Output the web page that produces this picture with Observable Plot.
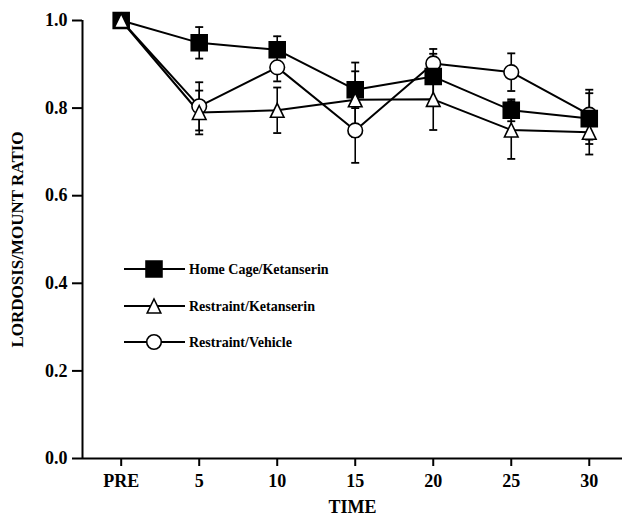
<!DOCTYPE html>
<html><head><meta charset="utf-8">
<script src="https://cdn.jsdelivr.net/npm/d3@7"></script>
<script src="https://cdn.jsdelivr.net/npm/@observablehq/plot@0.6"></script>
<style>
body{margin:0;background:#fff}
#chart{position:relative;width:625px;height:516px}
#chart svg text{font-size:18px;font-weight:bold;font-family:'Liberation Serif','Times New Roman',serif}
#chart svg g[aria-label="y-axis label"] text{font-size:17px}
</style>
</head><body><div id="chart"></div>
<script>
// ---- data ----
const times = [0, 5, 10, 15, 20, 25, 30];
const timeLabels = ["PRE", "5", "10", "15", "20", "25", "30"];
const seriesNames = ["Home Cage/Ketanserin", "Restraint/Ketanserin", "Restraint/Vehicle"];
const homeKet   = [1.0, 0.949, 0.933, 0.842, 0.872, 0.795, 0.776];
const homeKetSE = [0,   0.036, 0.031, 0.042, 0.052, 0.025, 0.058];
const restKet   = [1.0, 0.790, 0.795, 0.819, 0.820, 0.750, 0.745];
const restKetSE = [0,   0.050, 0.052, 0.085, 0.070, 0.066, 0.051];
const restVeh   = [1.0, 0.804, 0.893, 0.749, 0.902, 0.882, 0.785];
const restVehSE = [0,   0.055, 0.032, 0.074, 0.033, 0.043, 0.057];
const yTicks = [0, 0.2, 0.4, 0.6, 0.8, 1.0];

const values = [homeKet, restKet, restVeh];
const errors = [homeKetSE, restKetSE, restVehSE];
const rows = [];
seriesNames.forEach((s, i) => times.forEach((t, j) => rows.push({series: s, t, v: values[i][j], se: errors[i][j]})));
const withErr = rows.filter(d => d.se > 0);

const triangle = {draw(ctx, size) {
  const r = Math.sqrt(size / Math.PI);
  const hw = 0.85 * r, h = 1.75 * r;
  ctx.moveTo(0, -h / 2); ctx.lineTo(hw, h / 2); ctx.lineTo(-hw, h / 2); ctx.closePath();
}};
const cap = {draw(ctx) { ctx.moveTo(-4, 0); ctx.lineTo(4, 0); }};

const xMin = -2.48, xMax = 32.13;
const font = "'Liberation Serif','Times New Roman',serif";

const markStyles = {
  "Restraint/Vehicle": {symbol: "circle", r: 7.3, fill: "white"},
  "Home Cage/Ketanserin": {symbol: "square", r: 9, fill: "black"},
  "Restraint/Ketanserin": {symbol: triangle, r: 8, fill: "white"}
};
const drawOrder = ["Restraint/Vehicle", "Home Cage/Ketanserin", "Restraint/Ketanserin"];

const plot = Plot.plot({
  width: 625, height: 516,
  marginLeft: 82, marginRight: 3, marginTop: 20, marginBottom: 58,
  style: {fontFamily: font, fontSize: "18px", fontWeight: "bold", color: "black", background: "white"},
  x: {domain: [xMin, xMax]},
  y: {domain: [0, 1]},
  marks: [
    Plot.axisY({ticks: yTicks, tickFormat: d3.format(".1f"), tickSize: 10, tickPadding: 5, strokeWidth: 2, fontSize: 18,
      label: "LORDOSIS/MOUNT RATIO", labelAnchor: "center", labelOffset: 72, labelArrow: "none"}),
    Plot.axisX({ticks: times, tickFormat: t => timeLabels[times.indexOf(t)], tickSize: 8, tickPadding: 8, strokeWidth: 2, fontSize: 18,
      label: "TIME", labelAnchor: "center", labelOffset: 54, labelArrow: "none"}),
    Plot.ruleX([xMin], {strokeWidth: 2}),
    Plot.ruleY([0], {strokeWidth: 2}),
    Plot.ruleX(withErr, {x: "t", y1: d => d.v - d.se, y2: d => d.v + d.se, strokeWidth: 1.6}),
    Plot.dot(withErr, {x: "t", y: d => d.v + d.se, symbol: cap, stroke: "black", strokeWidth: 1.8, r: 4}),
    Plot.dot(withErr, {x: "t", y: d => d.v - d.se, symbol: cap, stroke: "black", strokeWidth: 1.8, r: 4}),
    Plot.line(rows, {x: "t", y: "v", z: "series", stroke: "black", strokeWidth: 2}),
    ...drawOrder.map(s => Plot.dot(rows.filter(d => d.series === s), {
      x: "t", y: "v", symbol: markStyles[s].symbol, r: markStyles[s].r,
      fill: markStyles[s].fill, stroke: "black", strokeWidth: 1.6
    }))
  ]
});
document.getElementById("chart").appendChild(plot);

// ---- legend (inside plot area) ----
const svg = d3.select(plot);
const legendY = [269, 306, 342];
const lg = svg.append("g");
seriesNames.forEach((s, i) => {
  const g = lg.append("g").attr("transform", `translate(0,${legendY[i]})`);
  g.append("line").attr("x1", 124).attr("x2", 185).attr("y1", 0).attr("y2", 0).attr("stroke", "black").attr("stroke-width", 2);
  const st = markStyles[s];
  const sym = st.symbol === "circle" ? d3.symbolCircle : st.symbol === "square" ? d3.symbolSquare : triangle;
  g.append("path").attr("transform", "translate(154,0)")
    .attr("d", d3.symbol(sym, Math.PI * st.r * st.r)())
    .attr("fill", st.fill).attr("stroke", "black").attr("stroke-width", 1.6);
  g.append("text").attr("x", 189).attr("y", 0).attr("dy", "0.35em")
    .attr("text-anchor", "start")
    .style("font-family", font).style("font-size", "14px").style("font-weight", "bold")
    .attr("fill", "black").text(s);
});
</script>
</body></html>
